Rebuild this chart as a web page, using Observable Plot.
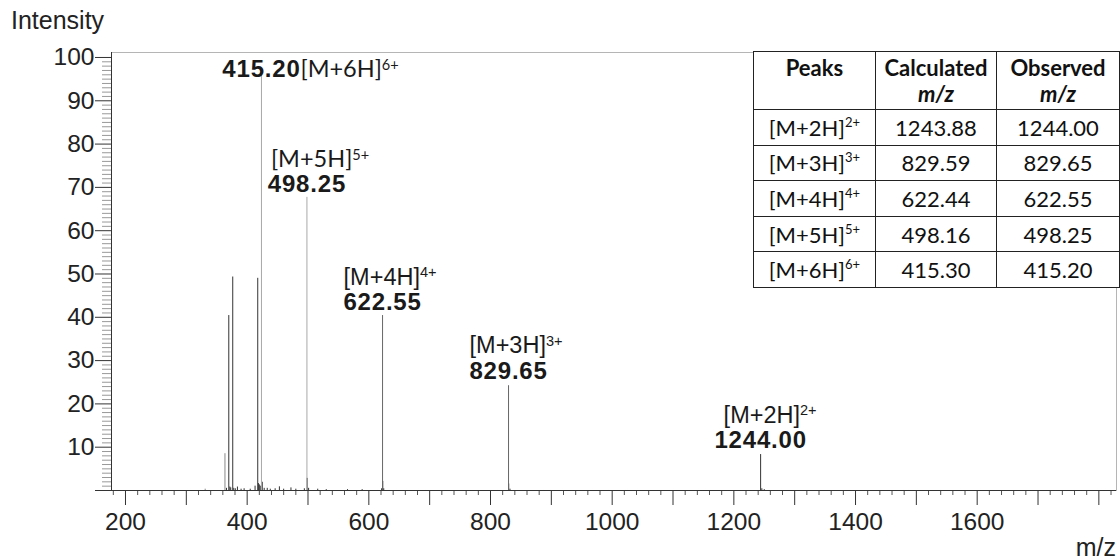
<!DOCTYPE html>
<html><head><meta charset="utf-8">
<script src="https://cdn.jsdelivr.net/npm/d3@7"></script>
<script src="https://cdn.jsdelivr.net/npm/@observablehq/plot@0.6"></script>
<style>
body{margin:0;background:#fff;}
#wrap{position:relative;width:1120px;height:560px;overflow:hidden;font-family:"Liberation Sans",Arial,sans-serif;color:#222;}
#wrap svg{position:absolute;left:0;top:0;}
.lbl{position:absolute;font-size:25px;line-height:1;white-space:nowrap;}
#ylab{left:11px;top:8px;}
#xlab{right:4px;top:535px;}
table{position:absolute;left:753px;top:51px;border-collapse:collapse;font-family:Lato,"Open Sans",sans-serif;font-size:22px;color:#111;background:#fff;}
td,th{border:1.3px solid #222;text-align:center;padding:0;}
th{font-weight:bold;vertical-align:top;height:58px;line-height:26px;padding-top:3px;box-sizing:border-box;}
td{height:34.6px;}
sup{font-size:13px;vertical-align:9px;line-height:0;}
</style></head><body><div id="wrap"></div>
<script>
// ---- data ----
// all sticks of the spectrum (m/z, relative intensity %)
const peakMz = [331, 363.5, 366, 369.8, 371.5, 373, 376.3, 378, 380.5, 384, 390, 395, 405, 413, 417.4, 418.5, 420, 421.5, 424.8, 428, 433, 438, 446, 453, 460, 472, 480, 494, 498.6, 501, 516, 530, 565, 589, 621, 622.9, 624.5, 829.9, 832, 1246, 1250];
const peakIntensity = [0.3, 8.5, 0.5, 40.4, 0.8, 0.6, 49.3, 0.5, 0.4, 0.8, 0.3, 0.4, 0.3, 1.0, 49.0, 1.6, 1.3, 1.0, 1.9, 0.5, 0.5, 0.3, 0.4, 0.85, 0.3, 0.6, 0.3, 0.4, 2.8, 0.5, 0.3, 0.2, 0.2, 0.2, 0.4, 2.1, 0.4, 1.5, 0.3, 0.4, 0.2];
// labelled charge-state peaks
const ionNames = ["[M+6H]^6+", "[M+5H]^5+", "[M+4H]^4+", "[M+3H]^3+", "[M+2H]^2+"];
const observedMz = [415.20, 498.25, 622.55, 829.65, 1244.00];
const calculatedMz = [415.30, 498.16, 622.44, 829.59, 1243.88];
const ionStickMz = [423.5, 498.25, 622.55, 829.65, 1244.0];
const ionIntensity = [96.5, 67.7, 40.4, 24.2, 8.3];
const tableRowOrder = [4, 3, 2, 1, 0];
const xTickLabels = [200, 400, 600, 800, 1000, 1200, 1400, 1600];
const yTickLabels = [10, 20, 30, 40, 50, 60, 70, 80, 90, 100];

// ---- layout / style (not data) ----
const xDomain = [177, 1829];
const yDomain = [0, 101.15];
const ionLayout = [
  {numDy: 4.5, ionDx: 39, ionDy: 4.5, ionFont: "Lato", stick: "#a8a8a8"},
  {numDy: -5.5, ionDx: -36, ionDy: -30.5, ionFont: "Lato", stick: "#a8a8a8"},
  {numDy: -6, ionDx: -39, ionDy: -31, ionFont: "Liberation Sans", stick: "#666"},
  {numDy: -7, ionDx: -39, ionDy: -32.5, ionFont: "Liberation Sans", stick: "#666"},
  {numDy: -7, ionDx: -37, ionDy: -32, ionFont: "Liberation Sans", stick: "#333"}
];

const peaks = peakMz.map((mz, i) => ({mz, intensity: peakIntensity[i], color: (mz < 365 ? "#888" : "#333")}));
const ions = ionNames.map((name, i) => ({name, observed: observedMz[i], calculated: calculatedMz[i], mz: ionStickMz[i], intensity: ionIntensity[i]}));

const xMajor = d3.range(200, 1801, 100);
const xMinor = d3.range(180, 1821, 20).filter(d => d % 100 !== 0);
const yMajor = [0, ...yTickLabels];
const yMinor = d3.range(1, 101, 1).filter(d => d % 10 !== 0);

const marks = [
  Plot.frame({stroke: "#b5b5b5"}),
  Plot.axisX(xMinor, {tickSize: 5, tickFormat: () => "", stroke: "#555", label: null}),
  Plot.axisX(xMajor, {tickSize: 15, tickPadding: 7, stroke: "#333", fill: "#222", fontSize: 24.5,
    tickFormat: d => xTickLabels.includes(d) ? String(d) : "", label: null}),
  Plot.axisY(yMinor, {tickSize: 9, tickFormat: () => "", stroke: "#999", label: null}),
  Plot.axisY(yMajor, {tickSize: 16, tickPadding: 1, stroke: "#333", fill: "#222", fontSize: 24.5,
    tickFormat: d => yTickLabels.includes(d) ? String(d) : "", label: null}),
  Plot.ruleX(peaks, {x: "mz", y1: 0, y2: "intensity", stroke: "color", strokeWidth: 1}),
];
ions.forEach((ion, i) => {
  const L = ionLayout[i];
  marks.push(Plot.ruleX([ion], {x: "mz", y1: 0, y2: "intensity", stroke: L.stick, strokeWidth: 1}));
  marks.push(Plot.text([ion], {x: "mz", y: "intensity", text: d => d.observed.toFixed(2),
    textAnchor: "middle", lineAnchor: "bottom", dy: L.numDy, fontSize: 24, fontWeight: "bold",
    fill: "#1a1a1a"}));
  marks.push(Plot.text([ion], {x: "mz", y: "intensity", text: "name",
    textAnchor: "start", lineAnchor: "bottom", dx: L.ionDx, dy: L.ionDy, fontSize: 23.5,
    fontFamily: L.ionFont, fill: "#1a1a1a"}));
});
marks.push(Plot.ruleY([0], {stroke: "#333"}));
marks.push(Plot.ruleX([xDomain[0]], {stroke: "#333"}));

const svg = Plot.plot({
  width: 1120, height: 560,
  marginLeft: 111, marginRight: 4, marginTop: 52, marginBottom: 70,
  style: {fontFamily: "'Liberation Sans', Arial, sans-serif", background: "transparent", overflow: "visible"},
  x: {domain: xDomain, axis: null},
  y: {domain: yDomain, axis: null},
  marks
});
const S = d3.select(svg);
// widen the bold peak numbers a little like the reference
S.selectAll("text").filter(function() { return /^\d+\.\d\d$/.test(this.textContent); })
  .style("letter-spacing", "0.8px");
// superscripts for charge states
S.selectAll("text").each(function() {
  const t = this.textContent;
  if (t && t.includes("^") && this.children.length === 0) {
    const [base, sup] = t.split("^");
    const el = d3.select(this);
    el.text(null);
    el.append("tspan").text(base);
    el.append("tspan").attr("dy", "-0.5em").attr("font-size", "0.62em").text(sup);
  }
});
const wrap = document.getElementById("wrap");
wrap.appendChild(svg);

// axis titles
const yl = document.createElement("div"); yl.className = "lbl"; yl.id = "ylab"; yl.textContent = "Intensity"; wrap.appendChild(yl);
const xl = document.createElement("div"); xl.className = "lbl"; xl.id = "xlab"; xl.textContent = "m/z"; wrap.appendChild(xl);

// table
const table = document.createElement("table");
const colW = [122, 121, 123];
const head = table.insertRow();
[["Peaks", ""], ["Calculated", "m/z"], ["Observed", "m/z"]].forEach(([a, b], j) => {
  const th = document.createElement("th");
  th.style.width = colW[j] + "px";
  th.innerHTML = a + (b ? "<br><i>" + b + "</i>" : "");
  head.appendChild(th);
});
tableRowOrder.forEach(i => {
  const r = table.insertRow();
  const [base, sup] = ions[i].name.split("^");
  r.insertCell().innerHTML = base + "<sup>" + sup + "</sup>";
  r.insertCell().textContent = ions[i].calculated.toFixed(2);
  r.insertCell().textContent = ions[i].observed.toFixed(2);
});
wrap.appendChild(table);
</script></body></html>
